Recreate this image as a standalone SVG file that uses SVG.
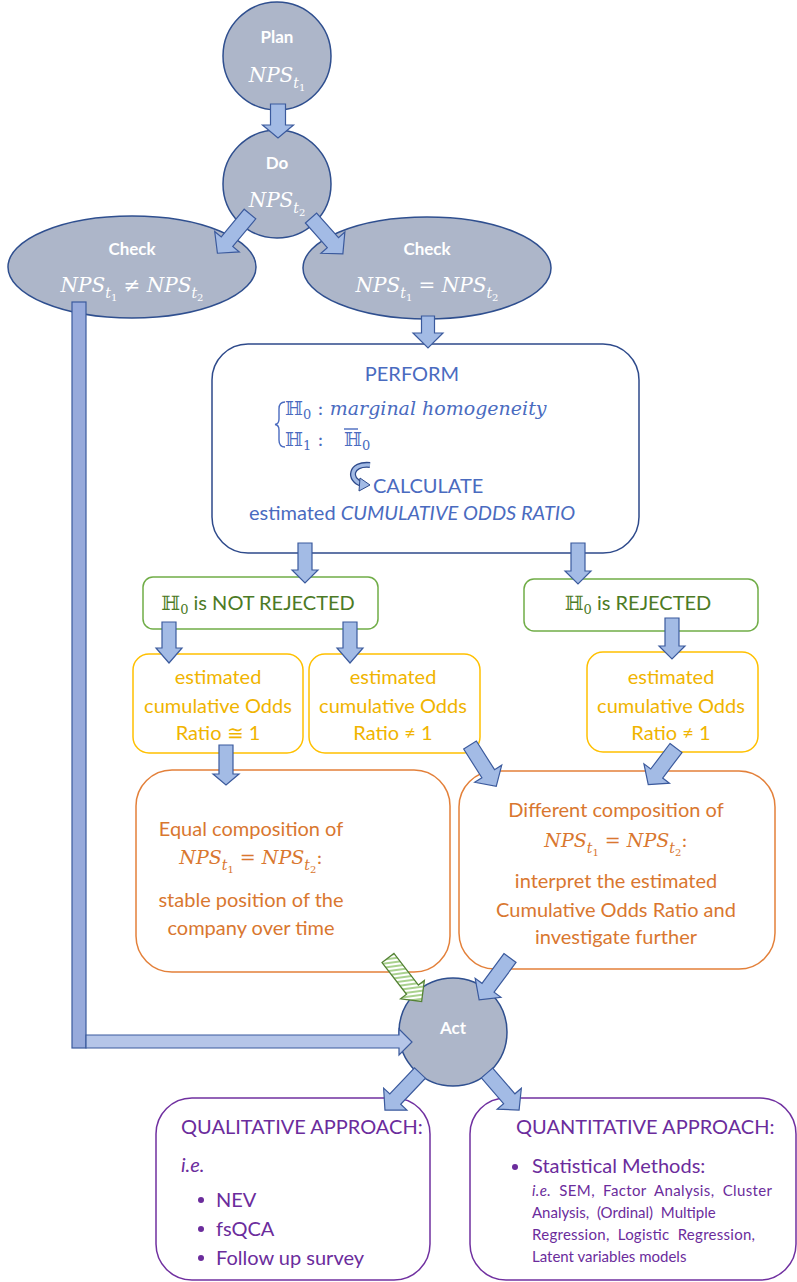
<svg xmlns="http://www.w3.org/2000/svg" width="797" height="1282" viewBox="0 0 797 1282">
<style>
.node{fill:#adb6c9;stroke:#2f4f8f;stroke-width:1.5}
.arr{fill:#a3bbe5;stroke:#3b5a9d;stroke-width:1.2}
.lbl{font-family:Lato,"Liberation Sans",sans-serif;font-weight:bold;font-size:17px;fill:#fff;text-anchor:middle}
.m{font-family:"DejaVu Serif",serif;font-style:italic;font-size:20px;text-anchor:middle}
.s{font-family:Lato,"Liberation Sans",sans-serif;font-size:20px}
.sm{font-family:Lato,"Liberation Sans",sans-serif;font-size:15px}
.c{text-anchor:middle}
.blue{fill:#4a6bbf}
.green{fill:#4c7a25}
.yellow{fill:#f0b400}
.orange{fill:#d9772f}
.purple{fill:#6b2c9c}
.sub{font-size:14px}
.sub2{font-size:10px;font-style:normal}
</style>
<defs>
<pattern id="hatch" width="6" height="4" patternUnits="userSpaceOnUse" patternTransform="rotate(30)">
<rect width="6" height="4" fill="#ffffff"/>
<rect width="6" height="2" fill="#a9d18e"/>
</pattern>
</defs>

<g id="plan">
<circle class="node" cx="277" cy="56" r="54"/>
<text class="lbl" x="277" y="43">Plan</text>
<text class="m" x="277" y="82" fill="#fff">NPS<tspan class="sub" dy="6">t</tspan><tspan class="sub2" dy="3">1</tspan></text>
</g>
<g id="do">
<circle class="node" cx="277" cy="184" r="54"/>
<text class="lbl" x="277" y="169">Do</text>
<text class="m" x="277" y="207" fill="#fff">NPS<tspan class="sub" dy="6">t</tspan><tspan class="sub2" dy="3">2</tspan></text>
</g>
<g id="check-neq">
<ellipse class="node" cx="132" cy="267" rx="124" ry="51"/>
<text class="lbl" x="132" y="255">Check</text>
<text class="m" x="132" y="292" fill="#fff">NPS<tspan class="sub" dy="6">t</tspan><tspan class="sub2" dy="3">1</tspan><tspan dy="-9" font-style="normal"> ≠ </tspan>NPS<tspan class="sub" dy="6">t</tspan><tspan class="sub2" dy="3">2</tspan></text>
</g>
<g id="check-eq">
<ellipse class="node" cx="427" cy="268" rx="124" ry="51"/>
<text class="lbl" x="427" y="255">Check</text>
<text class="m" x="427" y="292" fill="#fff">NPS<tspan class="sub" dy="6">t</tspan><tspan class="sub2" dy="3">1</tspan><tspan dy="-9" font-style="normal"> = </tspan>NPS<tspan class="sub" dy="6">t</tspan><tspan class="sub2" dy="3">2</tspan></text>
</g>

<g id="perform">
<rect x="212" y="344" width="427" height="209" rx="36" fill="#fff" stroke="#2e4a8b" stroke-width="1.5"/>
<text class="s c blue" x="412" y="381">PERFORM</text>
<path d="M285,402 Q279,402 279,409 L279,419 Q279,424 275,424.5 Q279,425 279,430 L279,440 Q279,447 285,447" fill="none" stroke="#4a6bbf" stroke-width="1.4"/>
<text x="285" y="415" font-family="'DejaVu Serif',serif" font-size="19" fill="#4a6bbf">ℍ<tspan font-size="13" dy="4">0</tspan><tspan dy="-4"> : </tspan><tspan font-style="italic">marginal homogeneity</tspan></text>
<text x="285" y="446" font-family="'DejaVu Serif',serif" font-size="19" fill="#4a6bbf">ℍ<tspan font-size="13" dy="4">1</tspan><tspan dy="-4"> :</tspan></text>
<text x="344" y="446" font-family="'DejaVu Serif',serif" font-size="19" fill="#4a6bbf">ℍ<tspan font-size="13" dy="4">0</tspan></text>
<line x1="344" y1="429" x2="358" y2="429" stroke="#4a6bbf" stroke-width="1.4"/>
<path d="M370,465 C350,463 348,480 362,484" fill="none" stroke="#2e4a8b" stroke-width="6"/>
<path d="M370,465 C350,463 348,480 362,484" fill="none" stroke="#a3bbe5" stroke-width="3.4"/>
<polygon points="360,478 370,485 359,491" fill="#a3bbe5" stroke="#2e4a8b" stroke-width="1"/>
<text class="s blue" x="373" y="493">CALCULATE</text>
<text class="s c blue" x="412" y="520">estimated <tspan font-style="italic">CUMULATIVE ODDS RATIO</tspan></text>
</g>

<g id="not-rejected">
<rect x="143" y="577" width="235" height="52" rx="10" fill="#fff" stroke="#70ad47" stroke-width="1.5"/>
<text class="s c green" x="258" y="610"><tspan font-family="'DejaVu Serif',serif">ℍ</tspan><tspan font-family="'DejaVu Serif',serif" font-size="13" dy="4">0</tspan><tspan dy="-4"> is NOT REJECTED</tspan></text>
</g>
<g id="rejected">
<rect x="524" y="579" width="234" height="52" rx="10" fill="#fff" stroke="#70ad47" stroke-width="1.5"/>
<text class="s c green" x="638" y="610"><tspan font-family="'DejaVu Serif',serif">ℍ</tspan><tspan font-family="'DejaVu Serif',serif" font-size="13" dy="4">0</tspan><tspan dy="-4"> is REJECTED</tspan></text>
</g>

<g id="or-approx-1">
<rect x="133" y="654" width="170" height="99" rx="16" fill="#fff" stroke="#ffc000" stroke-width="1.5"/>
<text class="s c yellow" x="218" y="684">estimated</text>
<text class="s c yellow" x="218" y="713">cumulative Odds</text>
<text class="s c yellow" x="218" y="740">Ratio ≅ 1</text>
</g>
<g id="or-neq-1-a">
<rect x="309" y="654" width="171" height="99" rx="16" fill="#fff" stroke="#ffc000" stroke-width="1.5"/>
<text class="s c yellow" x="393" y="684">estimated</text>
<text class="s c yellow" x="393" y="713">cumulative Odds</text>
<text class="s c yellow" x="393" y="740">Ratio ≠ 1</text>
</g>
<g id="or-neq-1-b">
<rect x="587" y="652" width="171" height="100" rx="16" fill="#fff" stroke="#ffc000" stroke-width="1.5"/>
<text class="s c yellow" x="671" y="684">estimated</text>
<text class="s c yellow" x="671" y="713">cumulative Odds</text>
<text class="s c yellow" x="671" y="740">Ratio ≠ 1</text>
</g>

<g id="equal-composition">
<rect x="136" y="770" width="314" height="202" rx="36" fill="#fff" stroke="#e3803a" stroke-width="1.5"/>
<text class="s c orange" x="251" y="836">Equal composition of</text>
<text class="m orange" x="251" y="864" style="font-size:19px">NPS<tspan class="sub" dy="6">t</tspan><tspan class="sub2" dy="3">1</tspan><tspan dy="-9" font-style="normal"> = </tspan>NPS<tspan class="sub" dy="6">t</tspan><tspan class="sub2" dy="3">2</tspan><tspan dy="-9" font-style="normal">:</tspan></text>
<text class="s c orange" x="251" y="907">stable position of the</text>
<text class="s c orange" x="251" y="935">company over time</text>
</g>
<g id="different-composition">
<rect x="459" y="771" width="316" height="198" rx="36" fill="#fff" stroke="#e3803a" stroke-width="1.5"/>
<text class="s c orange" x="616" y="817">Different composition of</text>
<text class="m orange" x="616" y="847" style="font-size:19px">NPS<tspan class="sub" dy="6">t</tspan><tspan class="sub2" dy="3">1</tspan><tspan dy="-9" font-style="normal"> = </tspan>NPS<tspan class="sub" dy="6">t</tspan><tspan class="sub2" dy="3">2</tspan><tspan dy="-9" font-style="normal">:</tspan></text>
<text class="s c orange" x="616" y="888">interpret the estimated</text>
<text class="s c orange" x="616" y="917">Cumulative Odds Ratio and</text>
<text class="s c orange" x="616" y="944">investigate further</text>
</g>

<g id="act">
<circle class="node" cx="453" cy="1032" r="54"/>
<text class="lbl" x="453" y="1034">Act</text>
</g>

<g id="qualitative">
<rect x="156" y="1098" width="274" height="182" rx="36" fill="#fff" stroke="#7030a0" stroke-width="1.5"/>
<text class="s purple" x="181" y="1134">QUALITATIVE APPROACH:</text>
<text class="s purple" x="181" y="1172" font-style="italic">i.e.</text>
<circle cx="201" cy="1200" r="3" fill="#6b2c9c"/>
<text class="s purple" x="216" y="1207">NEV</text>
<circle cx="201" cy="1229" r="3" fill="#6b2c9c"/>
<text class="s purple" x="216" y="1236">fsQCA</text>
<circle cx="201" cy="1258" r="3" fill="#6b2c9c"/>
<text class="s purple" x="216" y="1265">Follow up survey</text>
</g>
<g id="quantitative">
<rect x="470" y="1098" width="326" height="182" rx="36" fill="#fff" stroke="#7030a0" stroke-width="1.5"/>
<text class="s purple" x="516" y="1134">QUANTITATIVE APPROACH:</text>
<circle cx="515" cy="1167" r="3" fill="#6b2c9c"/>
<text class="s purple" x="532" y="1173">Statistical Methods:</text>
<text class="sm purple" x="532" y="1196" textLength="240" lengthAdjust="spacing" word-spacing="4"><tspan font-style="italic">i.e.</tspan> SEM, Factor Analysis, Cluster</text>
<text class="sm purple" x="532" y="1218" word-spacing="4">Analysis, (Ordinal) Multiple</text>
<text class="sm purple" x="532" y="1240" textLength="223" lengthAdjust="spacing" word-spacing="4">Regression, Logistic Regression,</text>
<text class="sm purple" x="532" y="1262">Latent variables models</text>
</g>

<g id="connectors">
<path class="arr" transform="translate(278,104)" d="M-7.5,0 L7.5,0 L7.5,21 L15.5,21 L0,34 L-15.5,21 L-7.5,21 Z"/>
<path class="arr" transform="translate(250,214) rotate(39.7)" d="M-7.5,0 L7.5,0 L7.5,36 L16,36 L0,51 L-16,36 L-7.5,36 Z"/>
<path class="arr" transform="translate(311,218) rotate(-41.6)" d="M-7.5,0 L7.5,0 L7.5,33 L16,33 L0,48 L-16,33 L-7.5,33 Z"/>
<path class="arr" transform="translate(428,316)" d="M-6.5,0 L6.5,0 L6.5,17 L15,17 L0,32 L-15,17 L-6.5,17 Z"/>
<path class="arr" transform="translate(305,543)" d="M-7,0 L7,0 L7,27 L13,27 L0,40 L-13,27 L-7,27 Z"/>
<path class="arr" transform="translate(578,543)" d="M-7,0 L7,0 L7,28 L13,28 L0,41 L-13,28 L-7,28 Z"/>
<path class="arr" transform="translate(169,622)" d="M-7,0 L7,0 L7,26 L13,26 L0,41 L-13,26 L-7,26 Z"/>
<path class="arr" transform="translate(350,622)" d="M-7,0 L7,0 L7,26 L13,26 L0,41 L-13,26 L-7,26 Z"/>
<path class="arr" transform="translate(672,618)" d="M-7,0 L7,0 L7,28 L13,28 L0,41 L-13,28 L-7,28 Z"/>
<path class="arr" transform="translate(226,745)" d="M-7,0 L7,0 L7,29 L13,29 L0,40 L-13,29 L-7,29 Z"/>
<path class="arr" transform="translate(470,745) rotate(-32.4)" d="M-7.5,0 L7.5,0 L7.5,34 L16,34 L0,49 L-16,34 L-7.5,34 Z"/>
<path class="arr" transform="translate(676,748) rotate(37.1)" d="M-7.5,0 L7.5,0 L7.5,32 L16,32 L0,46 L-16,32 L-7.5,32 Z"/>
<path transform="translate(388,958) rotate(-37.7)" d="M-7.5,0 L7.5,0 L7.5,40 L15,40 L0,55 L-15,40 L-7.5,40 Z" fill="url(#hatch)" stroke="#548235" stroke-width="1.3"/>
<path class="arr" transform="translate(510,958) rotate(36.4)" d="M-7.5,0 L7.5,0 L7.5,37 L16,37 L0,52 L-16,37 L-7.5,37 Z"/>
<path class="arr" transform="translate(420,1073) rotate(43.4)" d="M-7.5,0 L7.5,0 L7.5,36 L16,36 L0,51 L-16,36 L-7.5,36 Z"/>
<path class="arr" transform="translate(487,1073) rotate(-40.9)" d="M-7.5,0 L7.5,0 L7.5,34 L16,34 L0,49 L-16,34 L-7.5,34 Z"/>
<rect x="72" y="302" width="14" height="746" fill="#97aadb" stroke="#3b5a9d" stroke-width="1.2"/>
<path d="M86,1035 L399,1035 L399,1029 L412,1042 L399,1055 L399,1048 L86,1048 Z" fill="#b5c5e8" stroke="#3b5a9d" stroke-width="1.2"/>
</g>
</svg>
